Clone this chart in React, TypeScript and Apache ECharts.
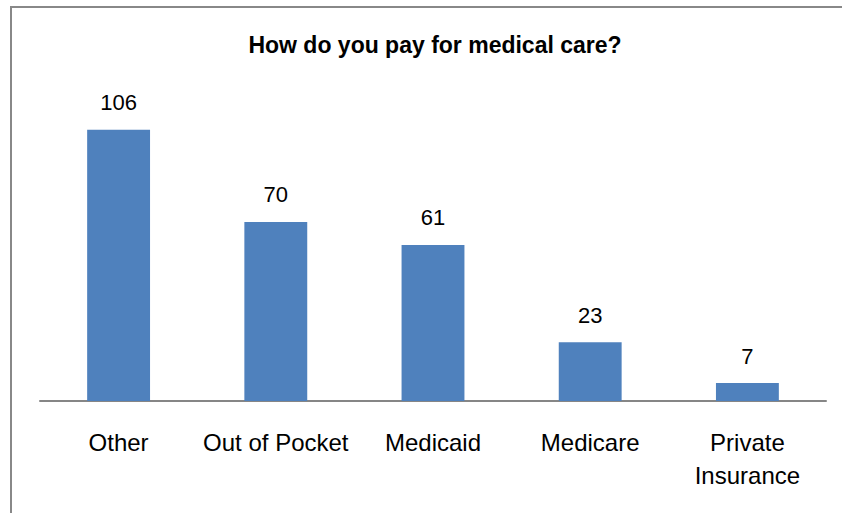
import React, { useEffect, useRef } from "react";
import * as echarts from "echarts";

const titleText = "How do you pay for medical care?";
const categories = ["Other", "Out of Pocket", "Medicaid", "Medicare", "Private\nInsurance"];
const values = [106, 70, 61, 23, 7];

const FONT = "Liberation Sans";

export default function App() {
  const ref = useRef<HTMLDivElement>(null);
  useEffect(() => {
    if (!ref.current) return;
    const chart = echarts.init(ref.current, undefined, { renderer: "svg" });
    chart.setOption({
      animation: false,
      backgroundColor: "#ffffff",
      title: {
        text: titleText,
        left: 430,
        textAlign: "center",
        top: 28,
        textStyle: { fontFamily: FONT, fontWeight: "bold", fontSize: 23, color: "#000" },
      },
      graphic: [
        {
          type: "rect",
          shape: { x: 11, y: 7, width: 900, height: 600 },
          style: { fill: "none", stroke: "#888888", lineWidth: 2 },
          silent: true,
        },
      ],
      grid: { left: 40, right: 16, top: 94, bottom: 112, containLabel: false },
      xAxis: {
        type: "category",
        data: categories,
        axisLine: { lineStyle: { color: "#868686", width: 2 } },
        axisTick: { show: false },
        axisLabel: {
          fontFamily: FONT,
          fontSize: 24,
          color: "#000",
          lineHeight: 33,
          margin: 25,
          interval: 0,
        },
      },
      yAxis: {
        type: "value",
        min: 0,
        max: 120,
        show: false,
        splitLine: { show: false },
      },
      series: [
        {
          type: "bar",
          data: values,
          barWidth: "40%",
          itemStyle: { color: "#4F81BD" },
          label: {
            show: true,
            position: "top",
            distance: 16,
            fontFamily: FONT,
            fontSize: 22,
            color: "#000",
          },
        },
      ],
    });
    return () => chart.dispose();
  }, []);
  return (
    <div
      ref={ref}
      style={{ position: "fixed", left: 0, top: 0, width: 842, height: 513 }}
    />
  );
}
